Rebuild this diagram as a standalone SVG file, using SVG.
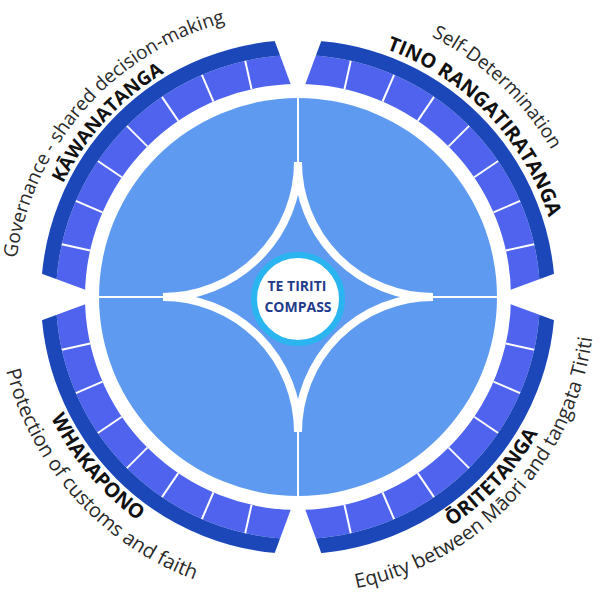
<svg xmlns="http://www.w3.org/2000/svg" xmlns:xlink="http://www.w3.org/1999/xlink" width="601" height="592" viewBox="0 0 601 592">
  <style>
    .sub { font-family: "Open Sans", "Liberation Sans", sans-serif; font-size: 19px; fill: #2a2a2a; }
    .sub20 { font-size: 20px; }
    .head { font-family: "Open Sans", "Liberation Sans", sans-serif; font-size: 19px; font-weight: 700; fill: #111111; }
    .head20 { font-size: 20px; }
    .core { font-family: "Open Sans", "Liberation Sans", sans-serif; font-size: 14px; font-weight: 700; fill: #1f3b8c; }
    .div { stroke: #ffffff; stroke-width: 2; }
    .gap { fill: #ffffff; }
  </style>
  <defs>
    <!-- text baselines, centred on each quadrant -->
    <path id="arcGov" d="M 28.7 387.1 A 284 284 0 0 1 354.6 18.7"/>
    <path id="arcKaw" d="M 49.1 375.5 A 261 261 0 0 1 354.5 42.2"/>
    <path id="arcSelf" d="M 214.8 16.1 A 293 293 0 0 1 582.9 365.4"/>
    <path id="arcTino" d="M 234.4 41.8 A 263 263 0 0 1 550.8 369.5"/>
    <path id="arcProt" d="M 11.7 204.0 A 301 301 0 0 0 360.6 591.4"/>
    <path id="arcWhak" d="M 39.2 204.1 A 275 275 0 0 0 346.9 567.6"/>
    <path id="arcEq" d="M 229.7 586.0 A 297 297 0 0 0 582.5 211.6"/>
    <path id="arcOri" d="M 236.4 566.0 A 276 276 0 0 0 561.8 215.9"/>
    <polygon id="wedge" class="gap" points="298,104 271.4,32 324.6,32"/>
    <g id="ticks">
      <line class="div" x1="298" y1="84" x2="298" y2="55" transform="rotate(-32.4 298 297)"/>
      <line class="div" x1="298" y1="84" x2="298" y2="55" transform="rotate(-21.6 298 297)"/>
      <line class="div" x1="298" y1="84" x2="298" y2="55" transform="rotate(-10.8 298 297)"/>
      <line class="div" x1="298" y1="84" x2="298" y2="55"/>
      <line class="div" x1="298" y1="84" x2="298" y2="55" transform="rotate(10.8 298 297)"/>
      <line class="div" x1="298" y1="84" x2="298" y2="55" transform="rotate(21.6 298 297)"/>
      <line class="div" x1="298" y1="84" x2="298" y2="55" transform="rotate(32.4 298 297)"/>
    </g>
  </defs>

  <rect width="601" height="592" fill="#ffffff"/>

  <!-- outer band: segmented inner ring and dark rim -->
  <g id="band">
    <circle cx="298" cy="297" r="227.5" fill="none" stroke="#4f63ef" stroke-width="29"/>
    <circle cx="298" cy="297" r="249.5" fill="none" stroke="#1b47b9" stroke-width="15"/>
    <use xlink:href="#ticks" transform="rotate(-45 298 297)"/>
    <use xlink:href="#ticks" transform="rotate(45 298 297)"/>
    <use xlink:href="#ticks" transform="rotate(135 298 297)"/>
    <use xlink:href="#ticks" transform="rotate(225 298 297)"/>
    <use xlink:href="#wedge"/>
    <use xlink:href="#wedge" transform="rotate(90 298 297)"/>
    <use xlink:href="#wedge" transform="rotate(180 298 297)"/>
    <use xlink:href="#wedge" transform="rotate(270 298 297)"/>
  </g>

  <!-- compass face -->
  <g id="face">
    <circle cx="298" cy="297" r="199" fill="#5e9bf0"/>
    <g stroke="#ffffff" stroke-width="2">
      <line x1="298" y1="96" x2="298" y2="162"/>
      <line x1="298" y1="432" x2="298" y2="498"/>
      <line x1="97" y1="297" x2="163" y2="297"/>
      <line x1="433" y1="297" x2="499" y2="297"/>
    </g>
    <g fill="none" stroke="#ffffff" stroke-width="8">
      <path d="M 298 162 A 135 135 0 0 1 163 297"/>
      <path d="M 433 297 A 135 135 0 0 1 298 162"/>
      <path d="M 298 432 A 135 135 0 0 1 433 297"/>
      <path d="M 163 297 A 135 135 0 0 1 298 432"/>
    </g>
  </g>

  <g id="hub">
    <circle cx="298" cy="299" r="44" fill="#ffffff" stroke="#2ab4f0" stroke-width="6"/>
    <text class="core" x="297" y="291" text-anchor="middle">TE TIRITI</text>
    <text class="core" x="298" y="312" text-anchor="middle">COMPASS</text>
  </g>

  <g id="kawanatanga">
    <text class="sub"><textPath xlink:href="#arcGov" startOffset="50%" text-anchor="middle">Governance - shared decision-making</textPath></text>
    <text class="head"><textPath xlink:href="#arcKaw" startOffset="50%" text-anchor="middle">KĀWANATANGA</textPath></text>
  </g>
  <g id="tino-rangatiratanga">
    <text class="sub"><textPath xlink:href="#arcSelf" startOffset="50%" text-anchor="middle">Self-Determination</textPath></text>
    <text class="head head20"><textPath xlink:href="#arcTino" startOffset="50%" text-anchor="middle">TINO RANGATIRATANGA</textPath></text>
  </g>
  <g id="whakapono">
    <text class="sub sub20"><textPath xlink:href="#arcProt" startOffset="50%" text-anchor="middle">Protection of customs and faith</textPath></text>
    <text class="head head20"><textPath xlink:href="#arcWhak" startOffset="50%" text-anchor="middle">WHAKAPONO</textPath></text>
  </g>
  <g id="oritetanga">
    <text class="sub sub20"><textPath xlink:href="#arcEq" startOffset="50%" text-anchor="middle">Equity between Māori and tangata Tiriti</textPath></text>
    <text class="head head20"><textPath xlink:href="#arcOri" startOffset="50%" text-anchor="middle">ŌRITETANGA</textPath></text>
  </g>
</svg>
